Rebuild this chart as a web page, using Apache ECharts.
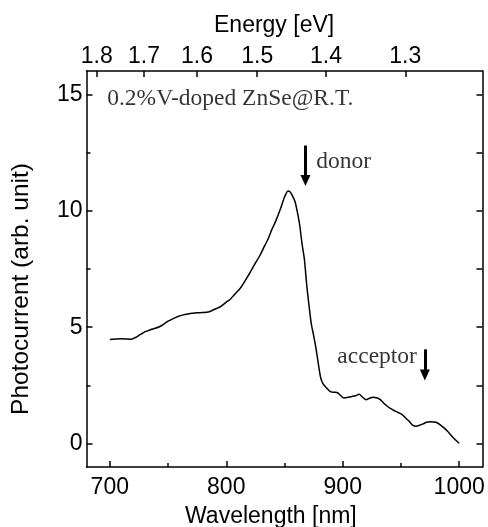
<!DOCTYPE html>
<html>
<head>
<meta charset="utf-8">
<script src="https://cdn.jsdelivr.net/npm/echarts@6/dist/echarts.min.js"></script>
<style>html,body{margin:0;padding:0;background:#fff}#c{width:488px;height:527px}</style>
</head>
<body>
<div id="c"></div>
<script>
// ---- data ----
var wavelength = [700,705,710,714,718,722,726,730,736,743,750,755,759,763,767,771,775,779,783,787,790,793,796,800,803,807,812,816,820,825,829,833,836,839,842,846,849,851,853,855,857,859,861,863,865,867,869,871,873,875,877,879,881,883,886,889,892,895,898,901,904,907,911,914,917,920,923,926,929,932,935,938,942,945,948,951,954,957,960,963,966,969,972,975,978,981,984,987,990,993,996,1000];
var photocurrent = [4.47,4.50,4.51,4.50,4.48,4.56,4.68,4.80,4.91,5.03,5.26,5.38,5.47,5.53,5.57,5.60,5.62,5.63,5.64,5.70,5.77,5.83,5.92,6.08,6.18,6.40,6.67,6.98,7.31,7.75,8.09,8.50,8.80,9.18,9.50,10.01,10.45,10.70,10.85,10.80,10.62,10.40,9.95,9.40,8.60,7.95,6.85,5.95,5.15,4.65,4.10,3.45,2.85,2.58,2.40,2.25,2.21,2.20,2.08,1.96,1.98,2.02,2.06,2.12,2.00,1.89,1.95,1.99,1.97,1.90,1.75,1.62,1.48,1.40,1.33,1.25,1.10,0.96,0.80,0.75,0.79,0.85,0.92,0.94,0.93,0.90,0.80,0.68,0.53,0.36,0.20,0.02];
var wlMajorTicks = [700,800,900,1000];
var wlMinorTicks = [750,850,950];
var energyTicks = [1.8,1.7,1.6,1.5,1.4,1.3];
var yMajorTicks = [0,5,10,15];
var yMinorTicks = [2.5,7.5,12.5];
var donorArrow = {x:868, from:12.8, to:11.3};
var acceptorArrow = {x:970.5, from:4.05, to:2.95};
var annotations = [
  {name:'0.2%V-doped ZnSe@R.T.', value:[693.5,14.8], pos:'right'},
  {name:'donor', value:[873,12.1], pos:'right'},
  {name:'acceptor', value:[968,3.73], pos:'left'}
];
var HC = 1239.84;
var X_MIN = 680, X_MAX = 1020, Y_MIN = -1, Y_MAX = 16;

// ---- layout ----
var W = 488, H = 527;
var G = {left:86.5, right:5.5, top:71, bottom:60};
var unitPerPxX = (X_MAX - X_MIN) / (W - G.left - G.right);
var unitPerPxY = (Y_MAX - Y_MIN) / (H - G.top - G.bottom);
var MAJ = 6, MIN = 4;

// tick marks as short segments drawn in data space through the axes
function seg(a, b){return [{coord:a},{coord:b}];}
var tickLines = [];
wlMajorTicks.forEach(function(v){tickLines.push(seg([v,Y_MIN],[v,Y_MIN+MAJ*unitPerPxY]));});
wlMinorTicks.forEach(function(v){tickLines.push(seg([v,Y_MIN],[v,Y_MIN+MIN*unitPerPxY]));});
energyTicks.forEach(function(e){tickLines.push(seg([HC/e,Y_MAX],[HC/e,Y_MAX-MAJ*unitPerPxY]));});
yMajorTicks.forEach(function(v){
  tickLines.push(seg([X_MIN,v],[X_MIN+MAJ*unitPerPxX,v]));
  tickLines.push(seg([X_MAX,v],[X_MAX-MAJ*unitPerPxX,v]));
});
yMinorTicks.forEach(function(v){
  tickLines.push(seg([X_MIN,v],[X_MIN+MIN*unitPerPxX,v]));
  tickLines.push(seg([X_MAX,v],[X_MAX-MAJ*unitPerPxX,v]));
});

var chart = echarts.init(document.getElementById('c'));
var sans = 'Liberation Sans', serif = 'Liberation Serif';
var FS = 23;
function xAx(o){return Object.assign({type:'value',min:X_MIN,max:X_MAX,splitLine:{show:false},axisTick:{show:false},axisLine:{show:true,onZero:false,lineStyle:{color:'#000',width:1.5}}},o);}
function yAx(o){return Object.assign({type:'value',min:Y_MIN,max:Y_MAX,splitLine:{show:false},axisTick:{show:false},axisLine:{show:true,onZero:false,lineStyle:{color:'#000',width:1.5}}},o);}
chart.setOption({
  animation:false,
  backgroundColor:'#fff',
  grid:{left:G.left,right:G.right,top:G.top,bottom:G.bottom,containLabel:false},
  title:[
    {text:'Energy [eV]', left:209, top:9, textStyle:{fontFamily:sans,fontSize:FS,fontWeight:'normal',color:'#000'}},
    {text:'Wavelength [nm]', left:180, top:500, textStyle:{fontFamily:sans,fontSize:FS,fontWeight:'normal',color:'#000'}}
  ],
  graphic:[
    {type:'text', x:21, y:289, rotation:Math.PI/2,
     style:{text:'Photocurrent (arb. unit)', align:'center', verticalAlign:'middle', font:'24.5px "Liberation Sans"', fill:'#000'}}
  ],
  xAxis:[
    xAx({position:'bottom',
      axisLabel:{customValues:wlMajorTicks,formatter:function(v){return String(v);},fontFamily:sans,fontSize:FS,color:'#000',margin:9}}),
    xAx({position:'top',
      axisLabel:{customValues:energyTicks.map(function(e){return HC/e;}),formatter:function(v){return (HC/v).toFixed(1);},fontFamily:sans,fontSize:FS,color:'#000',margin:3}})
  ],
  yAxis:[
    yAx({position:'left',
      axisLabel:{customValues:yMajorTicks,fontFamily:sans,fontSize:FS,color:'#000',margin:4}}),
    yAx({position:'right', axisLabel:{show:false}})
  ],
  series:[
    {type:'line', xAxisIndex:0, yAxisIndex:0, data:wavelength.map(function(w,i){return [w,photocurrent[i]];}),
     showSymbol:false, smooth:0.3, lineStyle:{color:'#000',width:1.5}, silent:true,
     markLine:{silent:true, symbol:['none','triangle'], symbolSize:[10,11],
       lineStyle:{color:'#000',width:3,type:'solid'}, label:{show:false},
       data:[
         [{coord:[donorArrow.x,donorArrow.from]},{coord:[donorArrow.x,donorArrow.to]}],
         [{coord:[acceptorArrow.x,acceptorArrow.from]},{coord:[acceptorArrow.x,acceptorArrow.to]}]
       ]}},
    {type:'scatter', xAxisIndex:0, yAxisIndex:0, symbolSize:0, silent:true,
     data:annotations.map(function(a){return {name:a.name,value:a.value,label:{position:a.pos}};}),
     label:{show:true, formatter:'{b}', distance:5, fontFamily:serif, fontSize:23.5, color:'#000'},
     markLine:{silent:true, symbol:['none','none'], label:{show:false}, precision:6,
       lineStyle:{color:'#000',width:1.5,type:'solid'}, emphasis:{disabled:true},
       data:tickLines}}
  ]
});
</script>
</body>
</html>
